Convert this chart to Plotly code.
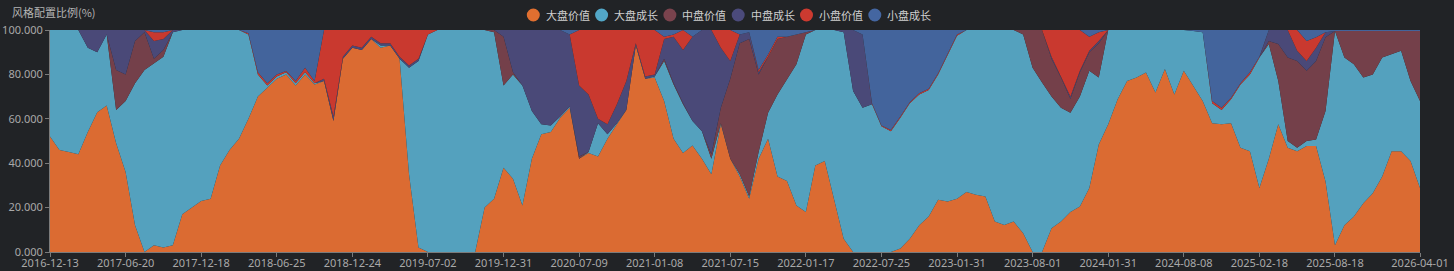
import numpy as np
import pandas as pd
import plotly.graph_objects as go

# ---- tick labels (x axis) ----
tick_dates = ['2016-12-13', '2017-06-20', '2017-12-18', '2018-06-25', '2018-12-24',
              '2019-07-02', '2019-12-31', '2020-07-09', '2021-01-08', '2021-07-15',
              '2022-01-17', '2022-07-25', '2023-01-31', '2023-08-01', '2024-01-31',
              '2024-08-08', '2025-02-18', '2025-08-18', '2026-04-01']
steps_between_ticks = [8] * 17 + [9]

series_names = ['大盘价值', '大盘成长', '中盘价值', '中盘成长', '小盘价值', '小盘成长']
series_colors = ['#db6b32', '#54a1be', '#74404a', '#4a4978', '#c9392f', '#43649c']
legend_colors = ['#e06f30', '#52a7c8', '#7a434d', '#4b4a7b', '#cc3a30', '#4466a1']

# ---- cumulative upper edge of each stacked layer (%) ----
top_large_value = [
    52, 46, 45, 44, 54, 63, 66, 49, 36, 12,
    0, 3, 2, 3, 17, 20, 23, 24, 39, 46,
    51, 60, 70, 74, 78, 80, 75, 80, 75.5, 77,
    59, 87, 92, 91, 96, 92, 93, 87, 35, 2,
    0, 0, 0, 0, 0, 0, 20, 24, 38, 33,
    21, 42, 53, 54, 60.5, 65, 42, 44.6, 43, 51,
    57.5, 64, 93, 78, 78.6, 68, 51, 44.6, 48, 42,
    35, 57.5, 42, 34, 24, 42, 51, 34, 32, 21,
    18, 39, 41, 24, 6, 0, 0, 0, 0, 0,
    1.6, 6, 12, 16, 23.5, 22.8, 24, 27, 25.8, 25,
    13.7, 12.2, 13.7, 8.4, 0, 0, 10.7, 13.7, 18, 20.5,
    28.8, 48.4, 57.5, 68.8, 77, 78.6, 80.8, 71.8, 82.4, 71,
    81.6, 74.8, 68, 58, 57.5, 58, 47, 45.4, 28.8, 42,
    57.5, 47, 45.4, 47.7, 47.7, 31.8, 3, 12, 16, 22,
    26.5, 34, 45.4, 45.4, 41, 28.8]
top_large_growth = [
    100, 100, 100, 100, 92, 90, 98, 64, 68, 76,
    82, 85, 88, 99, 100, 100, 100, 100, 100, 100,
    100, 98, 80, 75, 79, 81, 76, 81, 76, 77,
    59, 87, 92, 91, 96, 93, 93, 87, 83, 86,
    98, 100, 100, 100, 100, 100, 100, 99, 75, 80,
    75, 63.5, 57.5, 57, 61, 65.5, 42, 45, 58, 53,
    58, 64, 93, 78, 79, 86, 75.5, 66.5, 59, 54.4,
    42, 58, 42, 35, 25, 45, 62.7, 71, 78, 84.6,
    98, 100, 100, 100, 99, 72.5, 65, 66.5, 56.7, 54.4,
    60.5, 67, 71, 73, 80, 89, 97.4, 100, 100, 100,
    100, 100, 100, 98, 83, 76.3, 70, 65, 62.7, 70,
    81.6, 78.6, 100, 100, 100, 100, 100, 100, 100, 100,
    100, 99.5, 99, 67, 64, 68.8, 75.5, 80, 87.6, 93.7,
    77, 50, 47, 50, 50.7, 63.5, 99.5, 87.6, 84.6, 78.6,
    80, 87.6, 89, 90.6, 77, 68]
top_mid_value = [
    100, 100, 100, 100, 92, 90, 98, 82, 80, 95,
    99, 87, 91, 99, 100, 100, 100, 100, 100, 100,
    100, 98, 80, 75, 79, 81, 76, 81, 76, 77,
    59, 87, 92, 91, 96, 93, 93, 87, 83, 86,
    98, 100, 100, 100, 100, 100, 100, 100, 97, 81,
    75, 63.5, 57.5, 57, 61, 65.5, 43, 45, 58, 53,
    58, 64, 93, 78, 79, 87, 76, 67, 59, 54.4,
    44, 65, 78, 94, 96, 80, 88, 96, 97, 98,
    99, 100, 100, 100, 99, 72.5, 65, 66.5, 56.7, 54.4,
    60.5, 67, 71, 73, 80, 89, 97.4, 100, 100, 100,
    100, 100, 100, 100, 100, 100, 87, 78.6, 69, 81,
    90, 94, 100, 100, 100, 100, 100, 100, 100, 100,
    100, 99.5, 99, 67, 64, 68.8, 75.5, 80, 87.6, 95,
    93.7, 87.6, 86, 81.6, 86, 96.7, 99.5, 99.5, 99.5, 99.5,
    99.5, 99.5, 99.5, 99.5, 99.5, 99.5]
top_mid_growth = [
    100, 100, 100, 100, 100, 100, 100, 100, 100, 100,
    100, 95, 96, 100, 100, 100, 100, 100, 100, 100,
    100, 98, 80, 75, 79, 81, 76, 81, 76, 78,
    61, 88, 93, 92, 97, 94, 94, 88, 84, 87,
    98, 100, 100, 100, 100, 100, 100, 100, 100, 100,
    100, 100, 100, 100, 100, 98, 75, 71, 60, 57.5,
    66.5, 77, 94, 79, 80, 96, 97, 91, 97, 100,
    100, 92, 86, 98, 99, 81, 88, 96, 97, 98,
    99, 100, 100, 100, 100, 100, 98, 66.5, 56.7, 54.4,
    60.5, 67, 71, 73, 80, 89, 97.4, 100, 100, 100,
    100, 100, 100, 100, 100, 100, 88, 79, 70, 81.6,
    90.6, 95, 100, 100, 100, 100, 100, 100, 100, 100,
    100, 99.5, 99, 67, 64, 68.8, 75.5, 80, 87.6, 100,
    100, 100, 90.6, 86, 92, 99, 99.5, 99.5, 99.5, 99.5,
    99.5, 99.5, 99.5, 99.5, 99.5, 99.5]
top_small_value = [
    100, 100, 100, 100, 100, 100, 100, 100, 100, 100,
    100, 99, 99, 100, 100, 100, 100, 100, 100, 100,
    100, 98.5, 81, 76, 80, 81.5, 77, 83, 77, 100,
    100, 100, 100, 100, 100, 100, 100, 100, 100, 100,
    100, 100, 100, 100, 100, 100, 100, 100, 100, 100,
    100, 100, 100, 100, 100, 98, 100, 100, 100, 100,
    100, 100, 100, 100, 100, 97, 98, 100, 97, 100,
    100, 100, 100, 98, 99, 82, 89, 97, 97, 98,
    99, 100, 100, 100, 100, 100, 98, 67, 57, 55,
    61, 67.5, 71.5, 73.5, 80.5, 89.5, 98, 100, 100, 100,
    100, 100, 100, 100, 100, 100, 100, 100, 100, 100,
    97, 99, 100, 100, 100, 100, 100, 100, 100, 100,
    100, 99.5, 99, 68, 65, 69.5, 76, 81, 88, 100,
    100, 100, 100, 95, 96.7, 99, 99.5, 99.5, 99.5, 99.5,
    99.5, 99.5, 99.5, 99.5, 99.5, 99.5]

# ---- sample dates (category axis, evenly spaced between labelled dates) ----
dates = []
for i, n in enumerate(steps_between_ticks):
    seg = pd.date_range(tick_dates[i], tick_dates[i + 1], periods=n + 1)
    dates += [d.strftime('%Y-%m-%d') for d in seg[:-1]]
dates.append(tick_dates[-1])
dates = list(dict.fromkeys(dates))

edges = np.array([top_large_value, top_large_growth, top_mid_value,
                  top_mid_growth, top_small_value, [100] * len(top_large_value)], float)
shares = np.clip(np.diff(np.vstack([np.zeros(edges.shape[1]), edges]), axis=0), 0, None)

fig = go.Figure()
for name, col, vals in zip(series_names, series_colors, shares):
    fig.add_trace(go.Scatter(
        x=dates, y=vals, name=name, stackgroup='one', mode='lines',
        line=dict(width=0, color=col), fillcolor=col, showlegend=False,
        hovertemplate='%{x}<br>' + name + ': %{y:.3f}<extra></extra>'))

W, H = 1454, 271
ml, mr, mt, mb = 50, 34, 30, 19
pw, ph = W - ml - mr, H - mt - mb

def px_to_paper(x, y):
    return (x - ml) / pw, (H - mb - y) / ph

shapes, annotations = [], []
r = 6.5
for i, (name, col) in enumerate(zip(series_names, legend_colors)):
    cx = 533.3 + 68.3 * i
    cy = 15
    x0, y0 = px_to_paper(cx - r, cy + r)
    x1, y1 = px_to_paper(cx + r, cy - r)
    shapes.append(dict(type='circle', xref='paper', yref='paper', x0=x0, y0=y0, x1=x1, y1=y1,
                       fillcolor=col, line=dict(width=0)))
    tx, ty = px_to_paper(cx + 10.5, cy)
    annotations.append(dict(text=name, xref='paper', yref='paper', x=tx, y=ty,
                            xanchor='left', yanchor='middle', showarrow=False,
                            font=dict(size=11, color='#cfcfcf')))

tx, ty = px_to_paper(10, 12)
annotations.append(dict(text='风格配置比例(%)', xref='paper', yref='paper', x=tx, y=ty,
                        xanchor='left', yanchor='middle', showarrow=False,
                        font=dict(size=11, color='#b4b4b4',
                                  family='Noto Sans CJK SC, sans-serif')))

bg = '#212326'
fig.update_layout(
    width=W, height=H, margin=dict(l=ml, r=mr, t=mt, b=mb, autoexpand=False),
    paper_bgcolor=bg, plot_bgcolor=bg,
    font=dict(family='Noto Sans, Noto Sans CJK SC, sans-serif', size=11, color='#a9a9a9'),
    shapes=shapes, annotations=annotations, showlegend=False,
    xaxis=dict(type='category', range=[0, len(dates) - 1], tickmode='array',
               tickvals=tick_dates, ticktext=tick_dates, showgrid=False,
               showline=True, linecolor='#7b7b7b', linewidth=1,
               ticks='outside', ticklen=4, tickcolor='#7b7b7b',
               ticklabelstandoff=-3,
               tickfont=dict(size=11, color='#a9a9a9'), zeroline=False,
               tickangle=0, automargin=False),
    yaxis=dict(range=[0, 100], tickmode='array', tickvals=[0, 20, 40, 60, 80, 100],
               tickformat='.3f', showgrid=False, showline=True, linecolor='#7b7b7b',
               linewidth=1, ticks='outside', ticklen=4, tickcolor='#7b7b7b',
               tickfont=dict(size=11, color='#a9a9a9'), zeroline=False,
               automargin=False),
)

fig.write_html('out.html')
